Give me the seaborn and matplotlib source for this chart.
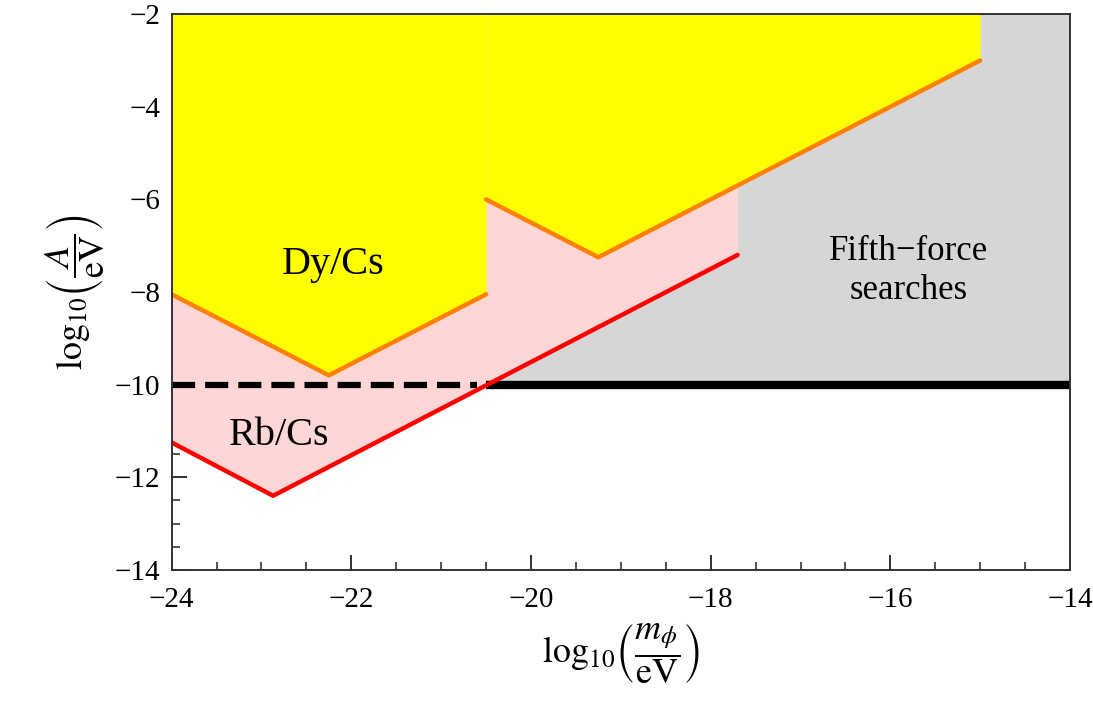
import matplotlib
matplotlib.use("Agg")
import matplotlib.pyplot as plt
import seaborn as sns
import numpy as np
import pandas as pd

# ---- data ----
rb_x = [-24.0, -22.87, -17.7]          # Rb/Cs bound (red)
rb_y = [-11.25, -12.4, -7.2]
dy1_x = [-24.0, -22.25, -20.5]         # Dy/Cs bound, left piece (orange)
dy1_y = [-8.05, -9.8, -8.05]
dy2_x = [-20.5, -19.25, -15.0]         # Dy/Cs bound, right piece (orange)
dy2_y = [-6.0, -7.25, -3.0]
ff_x = [-20.5, -14.0]                  # fifth-force region (grey) x-extent
ff_y = [-10.0, -10.0]
dash_x = [-24.0, -20.6]                # dashed extension of fifth-force bound
dash_y = [-10.0, -10.0]
y_top = -2.0

x_ticks = [-24, -22, -20, -18, -16, -14]
y_ticks = [-14, -12, -10, -8, -6, -4, -2]

sns.set_theme(style="ticks")
plt.rcParams["font.family"] = ["Liberation Serif", "DejaVu Serif"]
plt.rcParams["mathtext.fontset"] = "stix"
plt.rcParams["text.color"] = "black"
plt.rcParams["axes.labelcolor"] = "black"
plt.rcParams["xtick.color"] = "black"
plt.rcParams["ytick.color"] = "black"

fig = plt.figure(figsize=(10.93, 7.07), dpi=100)
ax = fig.add_axes([0.157, 0.194, 0.822, 0.786])

grey = "#d6d6d6"
pink = "#ffd6d6"
yellow = "#ffff00"
orange = "#ff8000"
red = "#ff0000"

# grey fifth-force region
ax.fill_between(ff_x, ff_y, y_top, color=grey, lw=0, zorder=1)
# pink Rb/Cs region
ax.fill_between(rb_x, rb_y, y_top, color=pink, lw=0, zorder=2)
# yellow Dy/Cs regions
ax.fill_between(dy1_x, dy1_y, y_top, color=yellow, lw=0, zorder=3)
ax.fill_between(dy2_x, dy2_y, y_top, color=yellow, lw=0, zorder=3)

# lines
sns.lineplot(x=ff_x, y=ff_y, ax=ax, color="black", lw=6, zorder=4,
             solid_capstyle="butt")
sns.lineplot(x=dash_x, y=dash_y, ax=ax, color="black", lw=4.5, zorder=4,
             dashes=(3.2, 1.6), linestyle="--")
sns.lineplot(x=rb_x, y=rb_y, ax=ax, color=red, lw=3.2, zorder=5, sort=False)
sns.lineplot(x=dy1_x, y=dy1_y, ax=ax, color=orange, lw=3.2, zorder=5, sort=False)
sns.lineplot(x=dy2_x, y=dy2_y, ax=ax, color=orange, lw=3.2, zorder=5, sort=False)

# labels inside
ax.text(-22.2, -7.4, "Dy/Cs", fontsize=29, ha="center", va="center", zorder=6)
ax.text(-22.8, -11.1, "Rb/Cs", fontsize=29, ha="center", va="center", zorder=6)
ax.text(-15.8, -7.55, "Fifth\u2212force\nsearches", fontsize=25, ha="center",
        va="center", linespacing=1.25, zorder=6)

ax.set_xlim(-24, -14)
ax.set_ylim(-14, -2)
ax.set_xticks(x_ticks)
ax.set_yticks(y_ticks)
ax.set_xticklabels([f"\u2212{abs(v)}" for v in x_ticks])
ax.set_yticklabels([f"\u2212{abs(v)}" for v in y_ticks])
ax.xaxis.set_minor_locator(matplotlib.ticker.MultipleLocator(0.5))
ax.yaxis.set_minor_locator(matplotlib.ticker.MultipleLocator(0.5))
ax.tick_params(which="both", direction="in", top=False, right=False,
               labelsize=21, color="#222222")
ax.tick_params(axis="x", pad=12)
ax.tick_params(axis="y", pad=8)
ax.tick_params(which="major", length=11, width=1.3)
ax.tick_params(which="minor", length=6, width=1.1)
for s in ax.spines.values():
    s.set_color("#333333")
    s.set_linewidth(1.4)
    s.set_zorder(7)

ax.set_xlabel(r"$\log_{10}\!\left(\dfrac{m_\phi}{\mathrm{eV}}\right)$",
              fontsize=26, labelpad=6)
ax.set_ylabel(r"$\log_{10}\!\left(\dfrac{A}{\mathrm{eV}}\right)$",
              fontsize=26, labelpad=6)

fig.savefig("out.png", dpi=100)
